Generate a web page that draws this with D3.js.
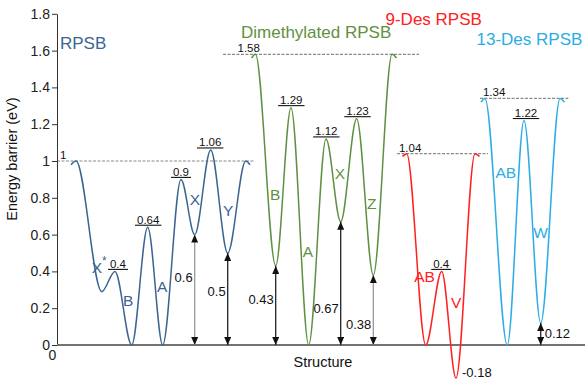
<!DOCTYPE html>
<html>
<head>
<meta charset="utf-8">
<script src="https://cdn.jsdelivr.net/npm/d3@7"></script>
<style>
  body { margin: 0; background: #fff; }
  svg { display: block; }
  text { font-family: "Liberation Sans", Arial, sans-serif; }
</style>
</head>
<body>
<svg id="chart" width="585" height="379"></svg>
<script>
// Energy profiles: structure coordinate of each extremum and its energy (eV)
const seriesNames = ["RPSB", "Dimethylated RPSB", "9-Des RPSB", "13-Des RPSB"];

const rpsbPos    = [2.65, 3.60, 8.47, 10.98, 14.15, 17.18, 20.02, 23.48, 26.08, 29.11, 32.33, 35.74, 36.55];
const rpsbEnergy = [0.98, 1.00, 0.29, 0.40, 0.00, 0.64, 0.00, 0.90, 0.60, 1.06, 0.50, 1.00, 0.98];

const dimethylPos    = [36.84, 37.59, 41.42, 44.32, 47.67, 50.95, 53.73, 56.76, 59.91, 63.45, 64.30];
const dimethylEnergy = [1.56, 1.58, 0.43, 1.29, 0.00, 1.12, 0.67, 1.23, 0.38, 1.58, 1.56];

const des9Pos    = [65.44, 66.23, 69.83, 72.86, 75.57, 79.17, 80.02];
const des9Energy = [1.025, 1.04, 0.00, 0.40, -0.18, 1.04, 1.025];

const des13Pos    = [80.30, 81.06, 85.28, 88.45, 91.61, 95.27, 96.12];
const des13Energy = [1.32, 1.34, 0.00, 1.22, 0.12, 1.34, 1.32];

// Reference barrier level of each profile and the span of its dashed guide
const levelEnergy = [1.00, 1.58, 1.04, 1.34];
const levelStart  = [0.00, 31.44, 64.39, 80.11];
const levelEnd    = [37.50, 68.56, 81.63, 96.84];

// Indices of labelled barrier tops and of wells with measured depth arrows
const peakIdx  = [[3, 5, 7, 9], [3, 5, 7], [3], [3]];
const wellIdx  = [[8, 10], [2, 6, 8], [4], [4]];

// State names placed along each profile: [structure coord, energy, text]
const stateNames = [
  [[8.0, 0.42, "X"], [13.5, 0.24, "B"], [19.9, 0.32, "A"], [26.1, 0.79, "X"], [32.4, 0.73, "Y"]],
  [[41.3, 0.82, "B"], [47.5, 0.51, "A"], [53.6, 0.93, "X"], [59.6, 0.77, "Z"]],
  [[69.6, 0.37, "AB"], [75.6, 0.23, "V"]],
  [[85.0, 0.94, "AB"], [91.6, 0.61, "W"]]
];

const yTicks = [0, 0.2, 0.4, 0.6, 0.8, 1, 1.2, 1.4, 1.6, 1.8];

const colors = ["#3a6592", "#5f9142", "#ff2020", "#2aade4"];
const profiles = [
  [rpsbPos, rpsbEnergy],
  [dimethylPos, dimethylEnergy],
  [des9Pos, des9Energy],
  [des13Pos, des13Energy]
];

const svg = d3.select("#chart");
const x = d3.scaleLinear().domain([0, 100]).range([57, 585]);
const y = d3.scaleLinear().domain([0, 1.8]).range([345, 13.8]);
const fmt = d => String(+d.toFixed(2));

// Arrow head used by the well-depth markers
const defs = svg.append("defs");
defs.append("marker")
  .attr("id", "head")
  .attr("markerUnits", "userSpaceOnUse")
  .attr("markerWidth", 8).attr("markerHeight", 7)
  .attr("refX", 8).attr("refY", 3.5)
  .attr("orient", "auto-start-reverse")
  .append("path").attr("d", "M0,0 L8,3.5 L0,7 Z").attr("fill", "#111");

// Dashed reference levels
levelEnergy.forEach((e, i) => {
  svg.append("line")
    .attr("x1", x(levelStart[i])).attr("x2", x(levelEnd[i]))
    .attr("y1", y(e)).attr("y2", y(e))
    .attr("stroke", "#8a8a8a").attr("stroke-width", 1.2)
    .attr("stroke-dasharray", "3,1.5");
});

// Level value labels sitting on the dashed guides
const levelLabelShift = [3, 14.5, 2, 3];
levelEnergy.forEach((e, i) => {
  svg.append("text")
    .attr("x", x(levelStart[i]) + levelLabelShift[i])
    .attr("y", y(e) - 2)
    .attr("font-size", 11.5).attr("fill", "#111")
    .text(fmt(e));
});

// Axes
const yAxis = svg.append("g")
  .attr("transform", `translate(${x(0)},0)`)
  .call(d3.axisLeft(y).tickValues(yTicks).tickFormat(fmt).tickSize(5).tickSizeOuter(0).tickPadding(2));
yAxis.select(".domain").attr("stroke", "#333");
yAxis.selectAll(".tick line").attr("stroke", "#333");
yAxis.selectAll(".tick text").attr("font-size", 14).attr("fill", "#222")
  .attr("font-family", "'Liberation Sans', Arial, sans-serif");

svg.append("line")
  .attr("x1", x(0)).attr("x2", x(100))
  .attr("y1", y(0)).attr("y2", y(0))
  .attr("stroke", "#737373").attr("stroke-width", 1.8);

svg.append("text")
  .attr("x", 52.5).attr("y", 360)
  .attr("text-anchor", "middle").attr("font-size", 14).attr("fill", "#222")
  .text("0");

svg.append("text")
  .attr("x", 323).attr("y", 366.5)
  .attr("text-anchor", "middle").attr("font-size", 14.5).attr("fill", "#111")
  .text("Structure");

svg.append("text")
  .attr("transform", "translate(17,159) rotate(-90)")
  .attr("text-anchor", "middle").attr("font-size", 14.5).attr("fill", "#111")
  .text("Energy barrier (eV)");

// Energy profile curves
const line = d3.line()
  .x(d => x(d[0])).y(d => y(d[1]))
  .curve(d3.curveMonotoneX);

profiles.forEach(([pos, en], i) => {
  svg.append("path")
    .datum(pos.map((p, k) => [p, en[k]]))
    .attr("d", line)
    .attr("fill", "none")
    .attr("stroke", colors[i])
    .attr("stroke-width", 1.5);
});

// Barrier-top labels with an underline at the barrier height
const peakShift = [[3, 0.5, 0, -0.5], [0.3, 0.3, 0.8], [-0.5], [2]];
profiles.forEach(([pos, en], i) => {
  peakIdx[i].forEach((k, j) => {
    const cx = x(pos[k]) + peakShift[i][j];
    const uy = y(en[k]) - 2;
    const t = svg.append("text")
      .attr("x", cx).attr("y", uy - 1.5)
      .attr("text-anchor", "middle").attr("font-size", 11.5).attr("fill", "#111")
      .text(fmt(en[k]));
    const w = t.node().getComputedTextLength() + 4;
    svg.append("line")
      .attr("x1", cx - w / 2).attr("x2", cx + w / 2)
      .attr("y1", uy).attr("y2", uy)
      .attr("stroke", "#111").attr("stroke-width", 1.1);
  });
});

// Well-depth arrows from zero up to each well bottom
const arrowLabelEnergy = [[0.366, 0.29], [0.25, 0.2, 0.109], [], [0.06]];
const arrowLineColor   = [["#9a9a9a", "#222"], ["#222", "#222", "#9a9a9a"], [], ["#222"]];
profiles.forEach(([pos, en], i) => {
  wellIdx[i].forEach((k, j) => {
    const ax = x(pos[k]);
    if (en[k] > 0) {
      svg.append("line")
        .attr("x1", ax).attr("x2", ax)
        .attr("y1", y(0)).attr("y2", y(en[k]))
        .attr("stroke", arrowLineColor[i][j]).attr("stroke-width", 1.3)
        .attr("marker-start", "url(#head)").attr("marker-end", "url(#head)");
      const right = i === 3;
      svg.append("text")
        .attr("x", right ? ax + 4 : ax - 2)
        .attr("y", y(arrowLabelEnergy[i][j]) + 4.5)
        .attr("text-anchor", right ? "start" : "end")
        .attr("font-size", 13).attr("fill", "#111")
        .text(fmt(en[k]));
    } else {
      // well below zero: value written beside its bottom
      svg.append("text")
        .attr("x", ax + 6).attr("y", y(en[k]) - 1)
        .attr("font-size", 13).attr("fill", "#111")
        .text(fmt(en[k]));
    }
  });
});

// State names
stateNames.forEach((list, i) => {
  list.forEach(([p, e, s]) => {
    const t = svg.append("text")
      .attr("x", x(p)).attr("y", y(e) + 5.5)
      .attr("text-anchor", "middle").attr("font-size", 15.5).attr("fill", colors[i])
      .text(s);
    if (i === 0 && p < 10) {
      t.append("tspan").attr("dy", -8).attr("font-size", 12).text("*");
    }
  });
});

// Profile titles
const titlePos = [[60, 49], [241, 38], [385.5, 25], [476.5, 45]];
seriesNames.forEach((n, i) => {
  svg.append("text")
    .attr("x", titlePos[i][0]).attr("y", titlePos[i][1])
    .attr("font-size", 17).attr("fill", colors[i])
    .text(n);
});
</script>
</body>
</html>
